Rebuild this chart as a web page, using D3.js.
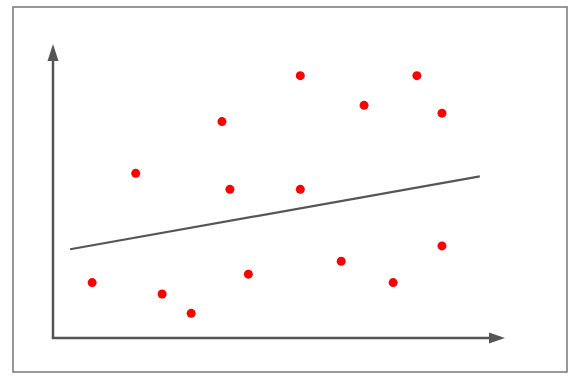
<!DOCTYPE html>
<html>
<head>
<meta charset="utf-8">
<script src="https://cdn.jsdelivr.net/npm/d3@7"></script>
<style>
	body { margin: 0; background: #fff; }
	svg { display: block; }
</style>
</head>
<body>
<svg id="chart" width="580" height="380"></svg>
<script>
// scatter values (x, y in 0..100 units)
const xs = [8.9, 18.8, 24.8, 31.4, 38.4, 40.2, 44.4, 56.2, 56.2, 65.5, 70.7, 77.3, 82.7, 88.4, 88.4]
const ys = [19.8, 58.8, 15.7, 8.8, 77.3, 53.1, 22.8, 93.7, 53.1, 27.4, 83.1, 19.8, 93.7, 80.3, 32.9]
// trend line end points
const trendX = [3.9, 97.0]
const trendY = [31.7, 57.7]

const svg = d3.select("#chart")

const x = d3.scaleLinear().domain([0, 100]).range([53, 493])
const y = d3.scaleLinear().domain([0, 100]).range([338, 58])

// frame
svg.append("rect")
	.attr("x", 13).attr("y", 7)
	.attr("width", 554).attr("height", 365)
	.attr("fill", "none")
	.attr("stroke", "#777")
	.attr("stroke-width", 1.5)

const axisColor = "#555"
const x0 = x(0), y0 = y(0)

// y axis with arrow
svg.append("line")
	.attr("x1", x0).attr("y1", y0)
	.attr("x2", x0).attr("y2", y(100) + 2)
	.attr("stroke", axisColor).attr("stroke-width", 2.5)
svg.append("path")
	.attr("d", `M${x0},${y(100) - 14} L${x0 - 5.5},${y(100) + 3} L${x0 + 5.5},${y(100) + 3} Z`)
	.attr("fill", axisColor)

// x axis with arrow
const xEnd = x(100)
svg.append("line")
	.attr("x1", x0 - 1.25).attr("y1", y0)
	.attr("x2", xEnd - 2).attr("y2", y0)
	.attr("stroke", axisColor).attr("stroke-width", 2.5)
svg.append("path")
	.attr("d", `M${xEnd + 12},${y0} L${xEnd - 4},${y0 - 5.5} L${xEnd - 4},${y0 + 5.5} Z`)
	.attr("fill", axisColor)

// trend line
svg.append("line")
	.attr("x1", x(trendX[0])).attr("y1", y(trendY[0]))
	.attr("x2", x(trendX[1])).attr("y2", y(trendY[1]))
	.attr("stroke", axisColor).attr("stroke-width", 2.2)

// points
svg.append("g")
	.selectAll("circle")
	.data(xs.map((v, i) => [v, ys[i]]))
	.join("circle")
		.attr("cx", d => x(d[0]))
		.attr("cy", d => y(d[1]))
		.attr("r", 4.5)
		.attr("fill", "#ff0000")
</script>
</body>
</html>
